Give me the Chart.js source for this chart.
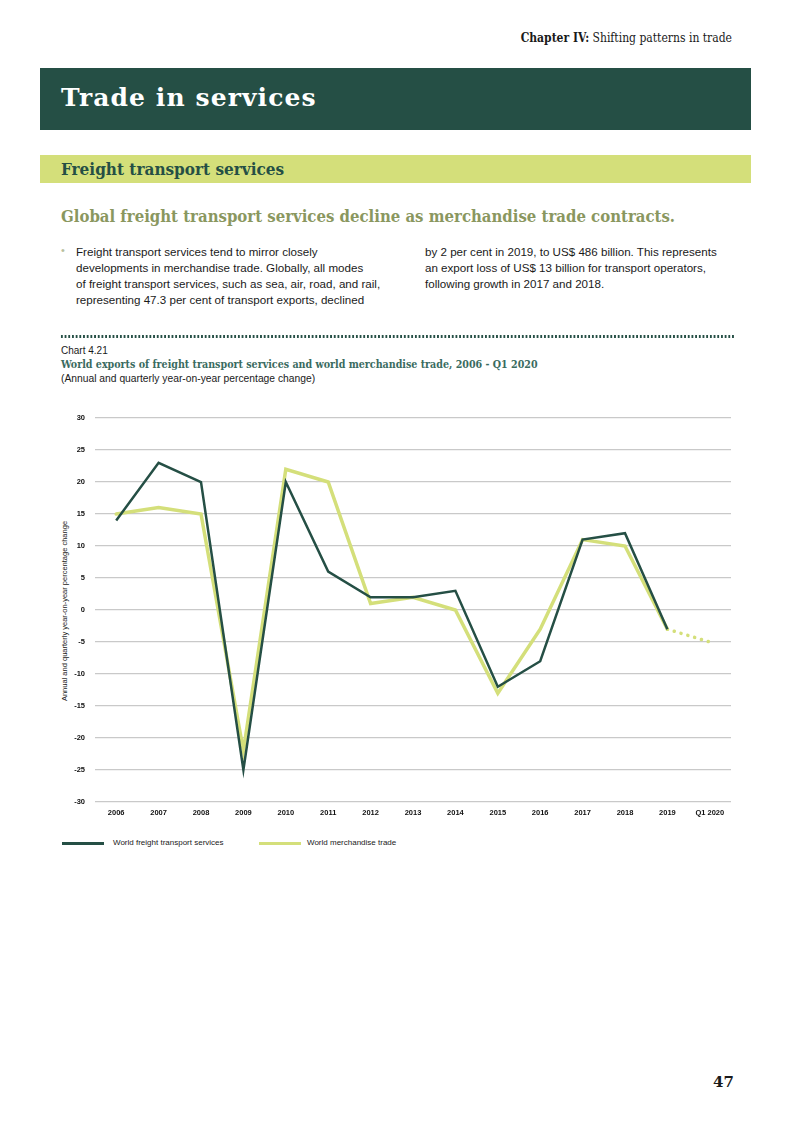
<!DOCTYPE html>
<html>
<head>
<meta charset="utf-8">
<script src="https://cdn.jsdelivr.net/npm/chart.js@4"></script>
<style>
  body { margin: 0; width: 793px; height: 1122px; background: #fff; position: relative; font-family: "Liberation Sans", Arial, sans-serif; color: #1a1a1a; }
  .abs { position: absolute; }
  .slab { font-family: "DejaVu Serif Condensed", "DejaVu Serif", serif; }
  #chapter { right: 61px; top: 31px; font-size: 12px; }
  #band1 { left: 40px; top: 68px; width: 711px; height: 62px; background: #254f45; }
  #band1 span { position: absolute; left: 21px; top: 15px; color: #fff; font-size: 25px; font-weight: bold; letter-spacing: 1.1px; font-family: "DejaVu Serif", serif; }
  #band2 { left: 40px; top: 155px; width: 711px; height: 28px; background: #d4df7a; }
  #band2 span { position: absolute; left: 21px; top: 4px; color: #254f45; font-size: 17px; font-weight: bold; }
  #lead { left: 61px; top: 206px; font-size: 16.6px; font-weight: bold; color: #8a975f; }
  .para { top: 244px; font-size: 11.6px; line-height: 16px; color: #1a1a1a; }
  #bullet { left: 61px; top: 244px; font-size: 11px; color: #b9bfa0; }
  #sep { left: 60px; top: 335px; width: 674px; height: 3px; background-image: radial-gradient(circle, #254f45 1.1px, transparent 1.3px); background-size: 3.7px 3px; }
  #chartno { left: 61px; top: 345px; font-size: 10px; }
  #charttitle { left: 61px; top: 358px; font-size: 10.6px; font-weight: bold; color: #3a6b5f; }
  #chartsub { left: 61px; top: 373px; font-size: 10.3px; }
  #ytitle { left: 64px; top: 611px; font-size: 7.5px; transform: translate(-50%, -50%) rotate(-90deg); white-space: nowrap; }
  #wrap { left: 40px; top: 400px; width: 710px; height: 430px; }
  .leg { top: 838px; font-size: 8px; }
  .sw { top: 842px; width: 42px; height: 3px; }
  #page { left: 713px; top: 1073px; font-size: 15px; font-weight: bold; font-family: "DejaVu Serif", serif; }
</style>
</head>
<body>
<div id="chapter" class="abs slab"><b>Chapter IV:</b> Shifting patterns in trade</div>
<div id="band1" class="abs"><span>Trade in services</span></div>
<div id="band2" class="abs"><span class="slab">Freight transport services</span></div>
<div id="lead" class="abs slab">Global freight transport services decline as merchandise trade contracts.</div>
<div id="bullet" class="abs">•</div>
<div class="abs para" style="left:76px;">Freight transport services tend to mirror closely<br>developments in merchandise trade. Globally, all modes<br>of freight transport services, such as sea, air, road, and rail,<br>representing 47.3 per cent of transport exports, declined</div>
<div class="abs para" style="left:425px;">by 2 per cent in 2019, to US$ 486 billion. This represents<br>an export loss of US$ 13 billion for transport operators,<br>following growth in 2017 and 2018.</div>
<div id="sep" class="abs"></div>
<div id="chartno" class="abs">Chart 4.21</div>
<div id="charttitle" class="abs slab">World exports of freight transport services and world merchandise trade, 2006 - Q1 2020</div>
<div id="chartsub" class="abs">(Annual and quarterly year-on-year percentage change)</div>
<div id="ytitle" class="abs">Annual and quarterly year-on-year percentage change</div>
<div id="wrap" class="abs"><canvas id="myChart" width="710" height="430"></canvas></div>
<div class="abs sw" style="left:62px; background:#254f45;"></div>
<div class="abs leg" style="left:113px;">World freight transport services</div>
<div class="abs sw" style="left:259px; background:#d4df7a;"></div>
<div class="abs leg" style="left:307px;">World merchandise trade</div>
<div id="page" class="abs">47</div>

<script>
// chart values
const years = ['2006', '2007', '2008', '2009', '2010', '2011', '2012', '2013', '2014', '2015', '2016', '2017', '2018', '2019', 'Q1 2020'];
const freight = [14, 23, 20, -25, 20, 6, 2, 2, 3, -12, -8, 11, 12, -3, null];
const merchandise = [15, 16, 15, -22, 22, 20, 1, 2, 0, -13, -3, 11, 10, -3, -5];
const yTicks = [30, 25, 20, 15, 10, 5, 0, -5, -10, -15, -20, -25, -30];

const darkGreen = '#254f45';
const lightGreen = '#d4df7a';

const ctx = document.getElementById('myChart').getContext('2d');
const myChart = new Chart(ctx, {
  type: 'line',
  data: {
    labels: years,
    datasets: [{
      label: 'World freight transport services',
      data: freight,
      borderColor: darkGreen,
      borderWidth: 2.5,
      pointRadius: 0,
      tension: 0
    }, {
      label: 'World merchandise trade',
      data: merchandise,
      borderColor: lightGreen,
      borderWidth: 3.5,
      pointRadius: 0,
      tension: 0,
      borderCapStyle: 'round',
      // last step (the quarter) is dotted
      segment: {
        borderDash: c => c.p1DataIndex === years.length - 1 ? [0.1, 7] : undefined
      }
    }]
  },
  options: {
    responsive: false,
    animation: false,
    layout: { padding: { top: 18, right: 19, left: 0, bottom: 0 } },
    plugins: { legend: { display: false }, tooltip: { enabled: false } },
    scales: {
      x: {
        offset: true,
        grid: { display: false, drawTicks: false },
        border: { display: false },
        ticks: { color: '#111', padding: 6, font: { family: 'Liberation Sans', size: 7.5, weight: 'bold' }, maxRotation: 0, autoSkip: false },
        afterFit: s => { s.height = 28; }
      },
      y: {
        min: -30,
        max: 30,
        border: { display: false },
        grid: { color: '#c9c9c9', lineWidth: 1.3, drawTicks: false },
        afterBuildTicks: s => { s.ticks = yTicks.map(v => ({ value: v })); },
        ticks: { color: '#111', padding: 10, autoSkip: false, font: { family: 'Liberation Sans', size: 7.5, weight: 'bold' } },
        afterFit: s => { s.width = 55; }
      }
    }
  }
});
</script>
</body>
</html>
